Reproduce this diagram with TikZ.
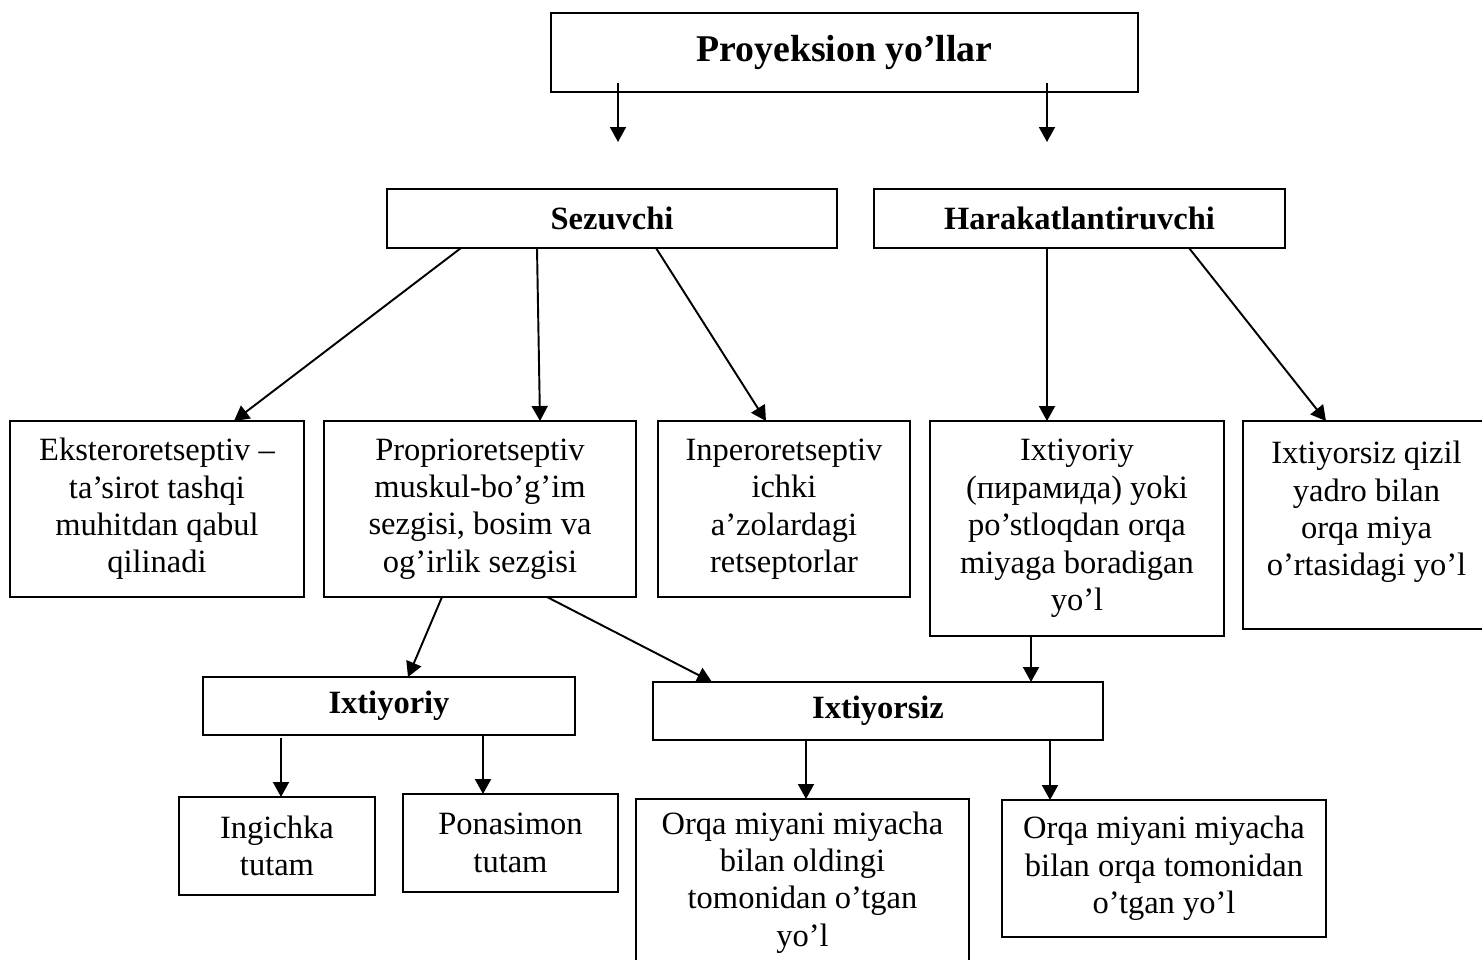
\documentclass[tikz,border=0pt]{standalone}
\usepackage{fontspec}
\setmainfont{Liberation Serif}
\usetikzlibrary{arrows.meta}

\begin{document}
\begin{tikzpicture}[x=0.02cm, y=-0.02cm,
  pbox/.style={draw, line width=1.1pt, inner sep=0pt, outer sep=0pt, align=center,
    font=\fontsize{18.5}{21.3}\selectfont},
  headbox/.style={pbox, font=\fontsize{18.5}{21.3}\selectfont\bfseries}]

\useasboundingbox (0,0) rectangle (1482,960);

% top level
\node [pbox, minimum width=11.74cm, minimum height=1.58cm,
  font=\fontsize{21.5}{25}\selectfont\bfseries] (top) at (844.5,52.5) {Proyeksion yo’llar};
\coordinate (sl) at (618,142);
\coordinate (sr) at (1047,142);

\node [headbox, minimum width=9cm, minimum height=1.18cm] (sez) at (612,218.5) {Sezuvchi};
\node [headbox, minimum width=8.22cm, minimum height=1.18cm] (hark) at (1079.5,218.5) {Harakatlantiruvchi};

% second row
\node [pbox, minimum width=5.87cm, minimum height=3.52cm] (ekst) at (157,509)
  {Eksteroretseptiv –\\ ta’sirot tashqi\\ muhitdan qabul\\ qilinadi};
\node [pbox, minimum width=6.24cm, minimum height=3.52cm] (prop) at (480,509)
  {Proprioretseptiv\\ muskul-bo’g’im\\ sezgisi, bosim va\\ og’irlik sezgisi};
\node [pbox, minimum width=5.04cm, minimum height=3.52cm] (inper) at (784,509)
  {Inperoretseptiv\\ ichki\\ a’zolardagi\\ retseptorlar};
\node [pbox, minimum width=5.88cm, minimum height=4.3cm] (ixpir) at (1077,528.5)
  {Ixtiyoriy\\ (пирамида) yoki\\ po’stloqdan orqa\\ miyaga boradigan\\ yo’l};
\node [pbox, minimum width=4.94cm, minimum height=4.16cm] (ixqiz) at (1366.5,525)
  {Ixtiyorsiz qizil\\ yadro bilan\\ orqa miya\\ o’rtasidagi yo’l\\[-9pt] \strut};

% third row
\node [headbox, minimum width=7.44cm, minimum height=1.16cm] (ixt) at (389,706) {Ixtiyoriy};
\node [headbox, minimum width=9cm, minimum height=1.16cm] (ixs) at (878,711) {Ixtiyorsiz};

% bottom row
\node [pbox, minimum width=3.92cm, minimum height=1.96cm] (ing) at (277,846) {Ingichka\\ tutam};
\node [pbox, minimum width=4.3cm, minimum height=1.96cm] (pon) at (510.5,843) {Ponasimon\\ tutam};
\node [pbox, minimum width=6.66cm, minimum height=3.34cm] (old) at (802.5,882.5)
  {Orqa miyani miyacha\\ bilan oldingi\\ tomonidan o’tgan\\ yo’l};
\node [pbox, minimum width=6.48cm, minimum height=2.74cm] (orq) at (1164,868.5)
  {Orqa miyani miyacha\\ bilan orqa tomonidan\\ o’tgan yo’l};

\begin{scope}[line width=1.1pt, -{Triangle[length=0.3cm, width=0.32cm]}]
\draw (sl |- top.south) ++(0,-9) -- (sl);
\draw (sr |- top.south) ++(0,-9) -- (sr);
\draw (461,0 |- sez.south) -- (234,0 |- ekst.north);
\draw (537,0 |- sez.south) -- (540,0 |- prop.north);
\draw (656,0 |- sez.south) -- (766,0 |- inper.north);
\draw (1047,0 |- hark.south) -- (1047,0 |- ixpir.north);
\draw (1189,0 |- hark.south) -- (1326,0 |- ixqiz.north);
\draw (442,0 |- prop.south) -- (408,0 |- ixt.north);
\draw (547,0 |- prop.south) -- (712,0 |- ixs.north);
\draw (1031,0 |- ixpir.south) -- (1031,0 |- ixs.north);
\draw (281,0 |- ixt.south) ++(0,3) -- (281,0 |- ing.north);
\draw (483,0 |- ixt.south) -- (483,0 |- pon.north);
\draw (806,0 |- ixs.south) -- (806,0 |- old.north);
\draw (1050,0 |- ixs.south) -- (1050,0 |- orq.north);
\end{scope}

\end{tikzpicture}
\end{document}
